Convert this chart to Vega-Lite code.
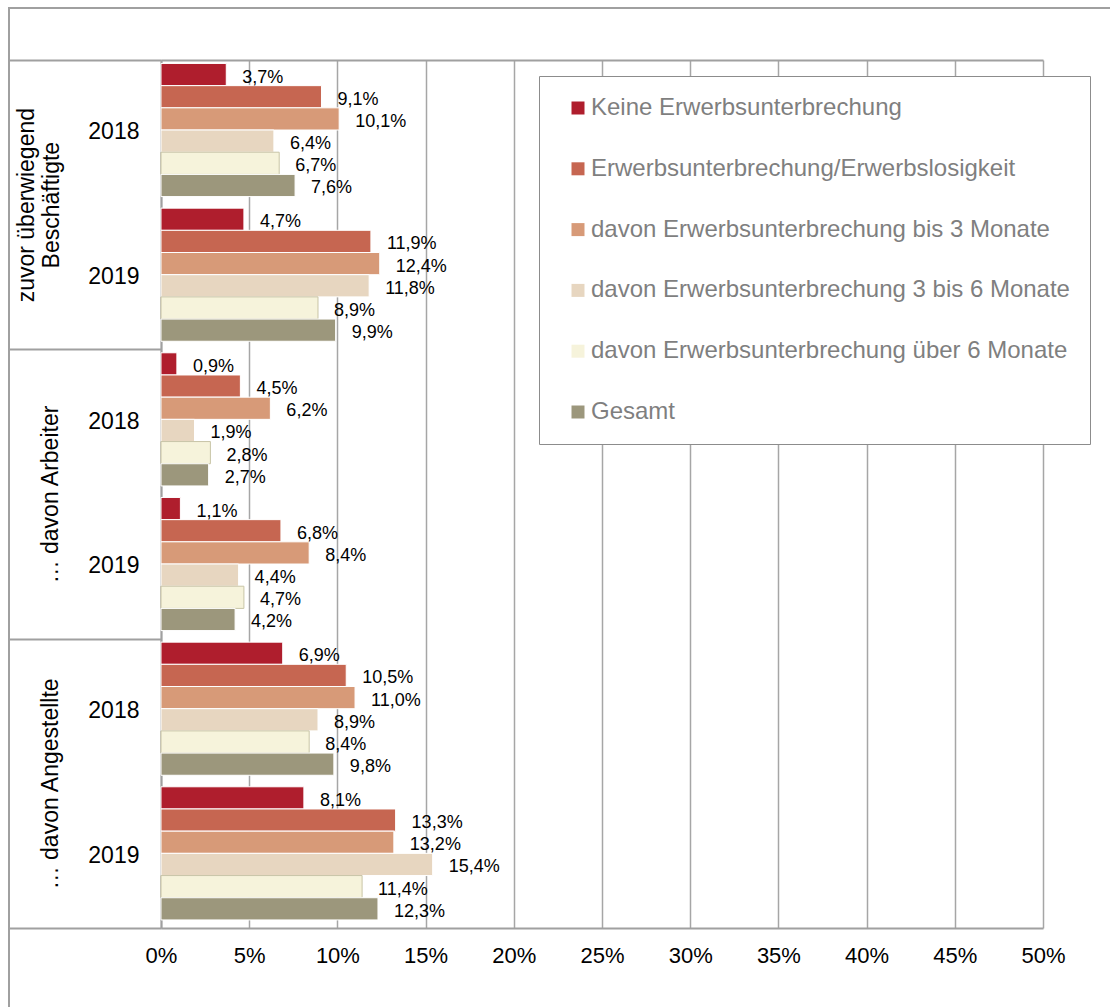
{
  "$schema": "https://vega.github.io/schema/vega-lite/v6.json",
  "width": 1102,
  "height": 1000,
  "autosize": "none",
  "padding": {"left": 9, "top": 8, "right": 0, "bottom": 0},
  "background": "white",
  "config": {
    "font": "Liberation Sans",
    "locale": {"number": {"decimal": ",", "thousands": ".", "grouping": [3], "currency": ["", " €"]}},
    "view": {"stroke": "#a0a0a0", "strokeWidth": 2}
  },
  "data": {
    "values": [
      {"gruppe": "zuvor überwiegend Beschäftigte", "zeile": "B 2018", "kategorie": "Keine Erwerbsunterbrechung", "wert": 0.037},
      {"gruppe": "zuvor überwiegend Beschäftigte", "zeile": "B 2018", "kategorie": "Erwerbsunterbrechung/Erwerbslosigkeit", "wert": 0.091},
      {"gruppe": "zuvor überwiegend Beschäftigte", "zeile": "B 2018", "kategorie": "davon Erwerbsunterbrechung bis 3 Monate", "wert": 0.101},
      {"gruppe": "zuvor überwiegend Beschäftigte", "zeile": "B 2018", "kategorie": "davon Erwerbsunterbrechung 3 bis 6 Monate", "wert": 0.064},
      {"gruppe": "zuvor überwiegend Beschäftigte", "zeile": "B 2018", "kategorie": "davon Erwerbsunterbrechung über 6 Monate", "wert": 0.067},
      {"gruppe": "zuvor überwiegend Beschäftigte", "zeile": "B 2018", "kategorie": "Gesamt", "wert": 0.076},
      {"gruppe": "zuvor überwiegend Beschäftigte", "zeile": "B 2019", "kategorie": "Keine Erwerbsunterbrechung", "wert": 0.047},
      {"gruppe": "zuvor überwiegend Beschäftigte", "zeile": "B 2019", "kategorie": "Erwerbsunterbrechung/Erwerbslosigkeit", "wert": 0.119},
      {"gruppe": "zuvor überwiegend Beschäftigte", "zeile": "B 2019", "kategorie": "davon Erwerbsunterbrechung bis 3 Monate", "wert": 0.124},
      {"gruppe": "zuvor überwiegend Beschäftigte", "zeile": "B 2019", "kategorie": "davon Erwerbsunterbrechung 3 bis 6 Monate", "wert": 0.118},
      {"gruppe": "zuvor überwiegend Beschäftigte", "zeile": "B 2019", "kategorie": "davon Erwerbsunterbrechung über 6 Monate", "wert": 0.089},
      {"gruppe": "zuvor überwiegend Beschäftigte", "zeile": "B 2019", "kategorie": "Gesamt", "wert": 0.099},
      {"gruppe": "… davon Arbeiter", "zeile": "Ar 2018", "kategorie": "Keine Erwerbsunterbrechung", "wert": 0.009},
      {"gruppe": "… davon Arbeiter", "zeile": "Ar 2018", "kategorie": "Erwerbsunterbrechung/Erwerbslosigkeit", "wert": 0.045},
      {"gruppe": "… davon Arbeiter", "zeile": "Ar 2018", "kategorie": "davon Erwerbsunterbrechung bis 3 Monate", "wert": 0.062},
      {"gruppe": "… davon Arbeiter", "zeile": "Ar 2018", "kategorie": "davon Erwerbsunterbrechung 3 bis 6 Monate", "wert": 0.019},
      {"gruppe": "… davon Arbeiter", "zeile": "Ar 2018", "kategorie": "davon Erwerbsunterbrechung über 6 Monate", "wert": 0.028},
      {"gruppe": "… davon Arbeiter", "zeile": "Ar 2018", "kategorie": "Gesamt", "wert": 0.027},
      {"gruppe": "… davon Arbeiter", "zeile": "Ar 2019", "kategorie": "Keine Erwerbsunterbrechung", "wert": 0.011},
      {"gruppe": "… davon Arbeiter", "zeile": "Ar 2019", "kategorie": "Erwerbsunterbrechung/Erwerbslosigkeit", "wert": 0.068},
      {"gruppe": "… davon Arbeiter", "zeile": "Ar 2019", "kategorie": "davon Erwerbsunterbrechung bis 3 Monate", "wert": 0.084},
      {"gruppe": "… davon Arbeiter", "zeile": "Ar 2019", "kategorie": "davon Erwerbsunterbrechung 3 bis 6 Monate", "wert": 0.044},
      {"gruppe": "… davon Arbeiter", "zeile": "Ar 2019", "kategorie": "davon Erwerbsunterbrechung über 6 Monate", "wert": 0.047},
      {"gruppe": "… davon Arbeiter", "zeile": "Ar 2019", "kategorie": "Gesamt", "wert": 0.042},
      {"gruppe": "… davon Angestellte", "zeile": "An 2018", "kategorie": "Keine Erwerbsunterbrechung", "wert": 0.069},
      {"gruppe": "… davon Angestellte", "zeile": "An 2018", "kategorie": "Erwerbsunterbrechung/Erwerbslosigkeit", "wert": 0.105},
      {"gruppe": "… davon Angestellte", "zeile": "An 2018", "kategorie": "davon Erwerbsunterbrechung bis 3 Monate", "wert": 0.110},
      {"gruppe": "… davon Angestellte", "zeile": "An 2018", "kategorie": "davon Erwerbsunterbrechung 3 bis 6 Monate", "wert": 0.089},
      {"gruppe": "… davon Angestellte", "zeile": "An 2018", "kategorie": "davon Erwerbsunterbrechung über 6 Monate", "wert": 0.084},
      {"gruppe": "… davon Angestellte", "zeile": "An 2018", "kategorie": "Gesamt", "wert": 0.098},
      {"gruppe": "… davon Angestellte", "zeile": "An 2019", "kategorie": "Keine Erwerbsunterbrechung", "wert": 0.081},
      {"gruppe": "… davon Angestellte", "zeile": "An 2019", "kategorie": "Erwerbsunterbrechung/Erwerbslosigkeit", "wert": 0.133},
      {"gruppe": "… davon Angestellte", "zeile": "An 2019", "kategorie": "davon Erwerbsunterbrechung bis 3 Monate", "wert": 0.132},
      {"gruppe": "… davon Angestellte", "zeile": "An 2019", "kategorie": "davon Erwerbsunterbrechung 3 bis 6 Monate", "wert": 0.154},
      {"gruppe": "… davon Angestellte", "zeile": "An 2019", "kategorie": "davon Erwerbsunterbrechung über 6 Monate", "wert": 0.114},
      {"gruppe": "… davon Angestellte", "zeile": "An 2019", "kategorie": "Gesamt", "wert": 0.123}
    ]
  },
  "layer": [
    {
      "layer": [
        {
          "mark": {"type": "bar", "strokeWidth": 1},
          "encoding": {
            "y": {
              "field": "zeile", "type": "nominal",
              "scale": {"domain": ["B 2018", "B 2019", "Ar 2018", "Ar 2019", "An 2018", "An 2019"], "range": [52, 920], "paddingInner": 0, "paddingOuter": 0},
              "axis": {"title": null, "orient": "left", "offset": -152, "domain": false, "ticks": false, "grid": false, "labelExpr": "slice(datum.value, -4)", "labelFontSize": 23, "labelColor": "#000000", "labelPadding": 22}
            },
            "yOffset": {
              "field": "kategorie", "type": "nominal",
              "scale": {"domain": ["Keine Erwerbsunterbrechung", "Erwerbsunterbrechung/Erwerbslosigkeit", "davon Erwerbsunterbrechung bis 3 Monate", "davon Erwerbsunterbrechung 3 bis 6 Monate", "davon Erwerbsunterbrechung über 6 Monate", "Gesamt"], "paddingInner": 0, "paddingOuter": 0.26, "align": 0.3}
            },
            "x": {
              "field": "wert", "type": "quantitative",
              "scale": {"domain": [0, 0.5], "range": [152, 1034], "nice": false},
              "axis": {"title": null, "orient": "bottom", "offset": -80, "values": [0, 0.05, 0.1, 0.15, 0.2, 0.25, 0.3, 0.35, 0.4, 0.45, 0.5], "format": ".0%", "domain": true, "domainColor": "#a0a0a0", "domainWidth": 2, "ticks": false, "grid": false, "labelFontSize": 22, "labelColor": "#000000", "labelPadding": 17, "labelFlush": false, "labelOverlap": false}
            },
            "color": {
              "field": "kategorie", "type": "nominal",
              "scale": {
                "domain": ["Keine Erwerbsunterbrechung", "Erwerbsunterbrechung/Erwerbslosigkeit", "davon Erwerbsunterbrechung bis 3 Monate", "davon Erwerbsunterbrechung 3 bis 6 Monate", "davon Erwerbsunterbrechung über 6 Monate", "Gesamt"],
                "range": ["#af1e2d", "#c66651", "#d79a78", "#e7d6c0", "#f6f3db", "#9c977c"]
              },
              "legend": {
                "orient": "none", "legendX": 530, "legendY": 68, "title": null,
                "labelFontSize": 24, "labelColor": "#7f7f7f", "labelLimit": 700,
                "symbolType": "square", "symbolSize": 169, "symbolStrokeWidth": 0,
                "padding": 20, "strokeColor": "#8c8c8c", "fillColor": "#ffffff",
                "rowPadding": 36.8, "labelOffset": 1, "symbolOffset": 7,
                "encode": {"legend": {"update": {"strokeWidth": {"value": 2}}}}
              }
            },
            "stroke": {
              "condition": {"test": "datum.kategorie == 'davon Erwerbsunterbrechung über 6 Monate'", "value": "#c8c4a6"},
              "value": "#ffffff"
            }
          }
        },
        {
          "mark": {"type": "text", "align": "left", "baseline": "middle", "dx": 16, "dy": 3, "fontSize": 18, "color": "#000000"},
          "encoding": {
            "y": {"field": "zeile", "type": "nominal"},
            "yOffset": {"field": "kategorie", "type": "nominal"},
            "x": {"field": "wert", "type": "quantitative"},
            "text": {"field": "wert", "type": "quantitative", "format": ".1%"}
          }
        }
      ]
    },
    {
      "mark": {"type": "point", "opacity": 0},
      "encoding": {
        "x": {
          "field": "wert", "type": "quantitative",
          "axis": {"title": null, "orient": "top", "offset": -52, "values": [0, 0.05, 0.1, 0.15, 0.2, 0.25, 0.3, 0.35, 0.4, 0.45, 0.5], "domain": true, "domainColor": "#a0a0a0", "domainWidth": 2, "ticks": false, "labels": false, "grid": true, "gridColor": "#a6a6a6", "gridWidth": 1.5}
        },
        "y": {
          "field": "zeile", "type": "nominal",
          "axis": {
            "title": null, "orient": "left", "offset": -152, "grid": false,
            "domainColor": "#a0a0a0", "domainWidth": 2,
            "tickColor": "#a0a0a0", "tickWidth": 2, "tickSize": 152, "tickBand": "extent",
            "tickOpacity": {"condition": {"test": "datum.value === 'B 2018' || datum.value === 'Ar 2018' || datum.value === 'An 2018'", "value": 0}, "value": 1},
            "labelAngle": 270, "labelAlign": "center", "labelBaseline": "middle",
            "labelPadding": {"condition": {"test": "datum.value === 'B 2018'", "value": -17}, "value": -41},
            "labelOffset": 72.33,
            "labelFontSize": 23, "labelColor": "#000000",
            "labelLineHeight": 25, "labelLimit": 600, "labelOverlap": false,
            "labelExpr": "datum.value === 'B 2018' ? ['zuvor überwiegend', 'Beschäftigte'] : datum.value === 'Ar 2018' ? '… davon Arbeiter' : datum.value === 'An 2018' ? '… davon Angestellte' : ''"
          }
        }
      }
    }
  ],
  "resolve": {"axis": {"y": "independent", "x": "independent"}}
}
